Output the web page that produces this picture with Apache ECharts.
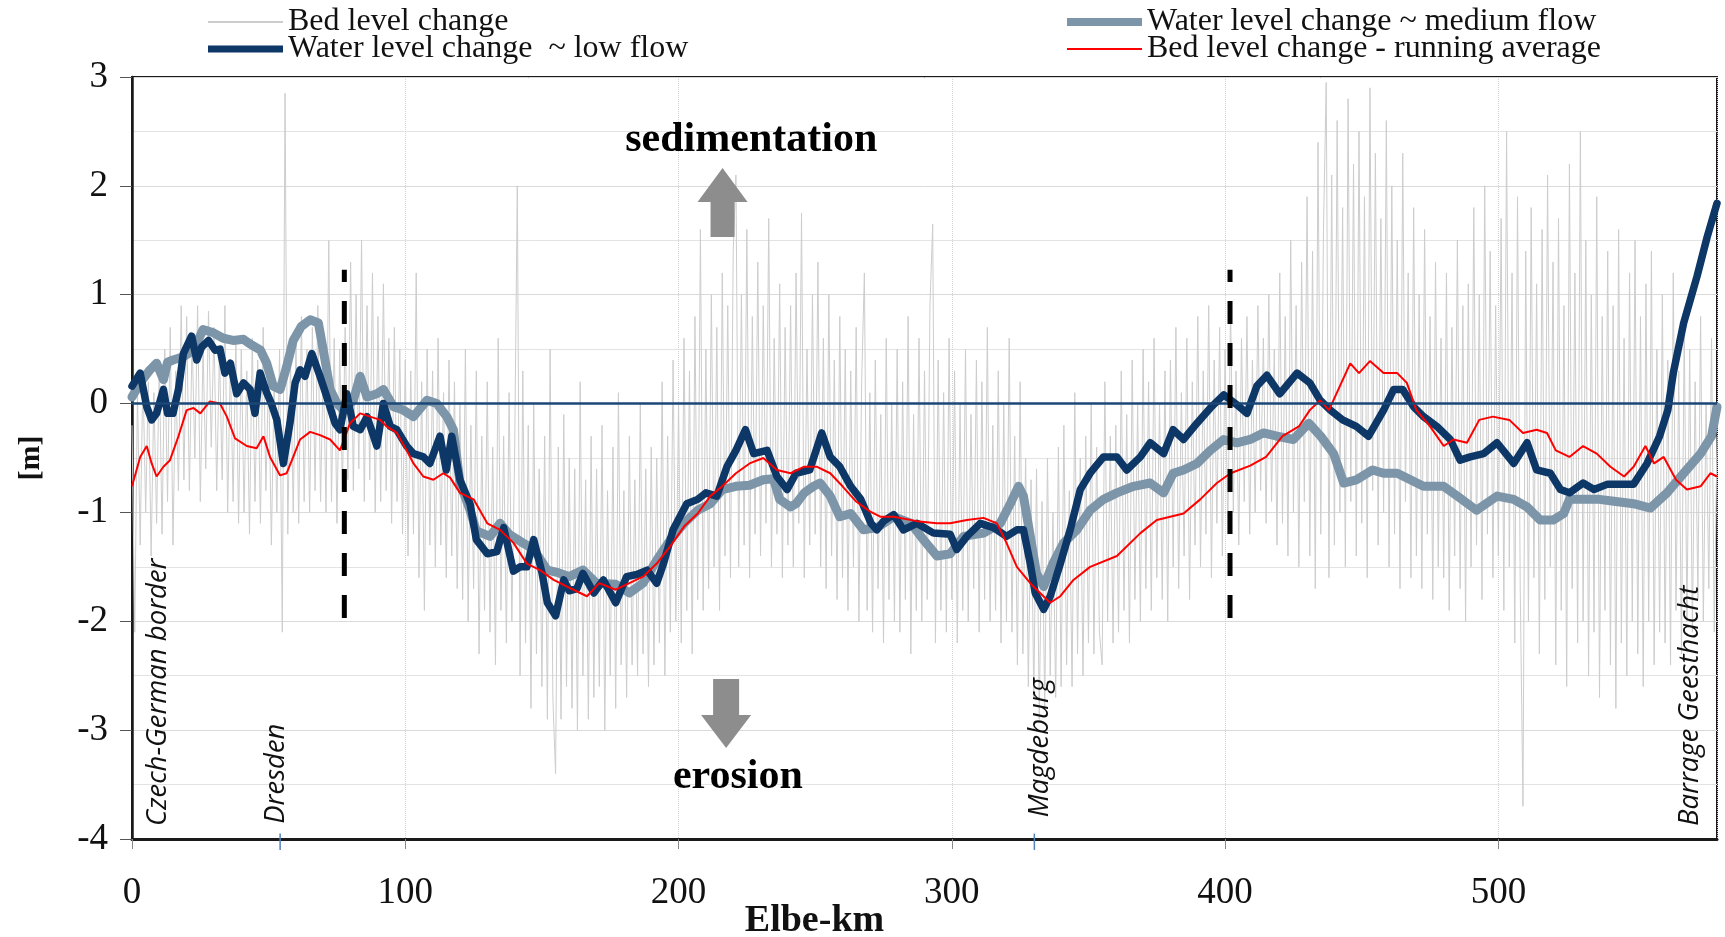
<!DOCTYPE html>
<html>
<head>
<meta charset="utf-8">
<title>Elbe - bed and water level change</title>
<script src="https://cdn.jsdelivr.net/npm/echarts@6/dist/echarts.min.js"></script>
<style>
  html, body { margin: 0; padding: 0; background: #fff; }
  #chart { width: 1725px; height: 937px; }
</style>
</head>
<body>
<div id="chart"></div>
<script>
(function (echarts) {
  "use strict";

  var SERIF = '"Liberation Serif", "Times New Roman", serif';
  var SANS = '"Open Sans", "Noto Sans", sans-serif';

  // series names, as in the legend
  var NAME_BED = 'Bed level change';
  var NAME_LOW = 'Water level change  ~ low flow';
  var NAME_MED = 'Water level change ~ medium flow';
  var NAME_AVG = 'Bed level change - running average';

  // bed level change, one value per Elbe-km (0 .. 580)
  var bedLevelStep = 1;
  var bedLevel = [
    -0.2, -2.1, 0.1, -1.3, 0.3, -1.0, 0.2, -1.4, 0.1, -1.1,
    0.4, -1.2, 0.5, -0.9, 0.7, -1.3, 0.3, -0.8, 0.9, -0.7,
    0.8, -0.8, 0.6, -0.5, 0.9, -0.9, 0.5, -0.6, 0.85, -0.4,
    0.7, -0.8, 0.5, -0.7, 0.9, -1.0, 0.4, -0.9, 0.6, -1.1,
    0.5, -1.0, 0.3, -1.2, 0.6, -0.9, 0.4, -1.1, 0.7, -0.8,
    0.3, -1.3, 0.2, -1.0, 0.5, -2.1, 2.85, -1.2, 0.4, -1.0,
    0.6, -1.1, 0.8, -0.9, 0.5, -1.0, 0.7, -0.8, 0.9, -0.9,
    0.4, -1.0, 1.5, -0.9, 0.6, -1.1, 0.5, -0.8, 0.7, -0.7,
    1.3, -0.8, 1.0, -0.6, 1.5, -0.9, 0.9, -0.7, 1.2, -1.0,
    0.8, -0.9, 1.1, -0.8, 0.6, -1.1, 0.7, -0.9, 0.5, -1.2,
    0.4, -1.4, 0.3, -1.2, 1.2, -1.6, 0.2, -1.9, 0.5, -1.3,
    0.3, -1.5, 0.6, -1.3, 0.1, -1.6, 0.4, -1.4, 0.2, -1.7,
    0.0, -1.8, 0.5, -2.0, -0.2, -1.7, 0.3, -2.3, -0.3, -1.9,
    0.2, -2.1, -0.4, -2.4, 0.6, -1.9, -0.3, -2.2, 0.1, -2.0,
    -0.5, 2.0, -2.5, 0.3, -2.2, -0.2, -2.8, 0.0, -2.3, -0.6,
    -2.6, -0.3, -2.9, 0.5, -2.7, -3.4, -0.4, -2.9, -0.1, -2.6,
    -0.5, -2.8, -0.6, -3.0, 0.2, -2.5, -0.7, -2.9, -0.3, -2.7,
    -0.6, -2.6, -0.2, -3.0, -0.8, -2.5, -0.4, -2.8, 0.1, -2.4,
    -0.8, -2.7, -0.3, -2.4, -0.7, -2.5, 0.0, -2.3, -0.6, -2.6,
    -0.4, -2.4, -0.5, -2.2, 0.2, -2.5, -0.3, -2.1, 0.4, -2.0,
    0.0, -2.2, 0.6, -1.9, 0.3, -2.3, 0.8, -1.8, 1.6, -1.9,
    0.5, -1.7, 1.0, -1.5, 0.7, -1.9, 1.2, -1.4, 0.9, -1.6,
    1.4, 2.1, -1.5, 1.0, -1.3, 1.6, -1.6, 0.8, -1.2, 1.3,
    -1.4, 0.9, -1.1, 1.7, -1.5, 0.6, -1.2, 1.1, -1.6, 0.7,
    -1.3, 0.9, -1.5, 1.2, -1.1, 1.75, -1.6, 0.5, -1.3, 1.0,
    -1.2, 1.3, -1.5, 0.6, -1.7, 1.0, -1.4, 0.4, -1.8, 0.8,
    -1.6, 0.5, -1.9, 0.3, -1.5, 0.7, -2.0, 0.2, 1.2, -1.9,
    0.1, -2.1, 0.4, -1.7, -0.1, -2.2, 0.6, -1.8, 0.0, -2.0,
    0.5, -2.1, 0.2, -1.8, 0.8, -2.3, -0.1, -1.9, 0.6, -2.0,
    0.3, -1.8, 0.9, 1.65, -2.2, 0.4, -1.9, 0.1, -2.1, 0.6,
    -1.8, 0.3, -2.2, 0.0, -1.9, 0.5, -2.0, -0.1, -1.7, 0.4,
    -2.1, 0.2, -1.8, 0.7, -2.0, -0.2, -1.9, 0.3, -2.2, 0.0,
    -2.0, 0.6, -2.1, -0.3, -2.4, 0.2, -2.3, -0.5, -2.6, -0.7,
    -2.7, -0.6, -2.9, -0.9, -2.8, -0.5, -2.5, -1.0, -2.7, -0.4,
    -2.6, -0.2, -2.4, -0.8, -2.6, 0.1, -2.3, -0.5, -2.5, -0.3,
    -2.2, 0.0, -2.3, -0.4, -2.1, -2.4, 0.2, -2.0, -0.3, -2.2,
    -0.2, -2.1, 0.3, -1.9, -0.1, -2.2, 0.4, -1.8, 0.0, -2.0,
    0.5, -1.7, 0.2, -1.9, 0.6, -1.6, 0.0, -1.8, 0.3, -2.0,
    0.4, -1.5, 0.7, -1.7, 0.1, -1.4, 0.6, -1.8, 0.2, -1.3,
    0.8, -1.5, 0.3, -1.2, 0.9, -1.6, 0.4, -1.1, 0.7, -1.4,
    0.5, -1.2, 0.9, -1.0, 0.3, -1.3, 0.6, -0.9, 0.8, -1.2,
    0.4, -1.0, 0.9, -0.8, 0.6, -1.1, 1.0, -0.9, 0.5, -1.3,
    1.2, -1.1, 0.8, -1.4, 1.5, -1.0, 0.9, -1.5, 1.3, -0.9,
    1.9, -1.4, 1.4, -1.7, 2.4, -1.2, 1.6, 2.95, -1.6, 2.1,
    -1.3, 2.6, -1.0, 1.8, -1.5, 2.8, -0.9, 2.2, -1.4, 2.5,
    -1.1, 1.9, -1.6, 2.9, -0.8, 2.3, -1.3, 1.7, -1.0, 2.6,
    -1.5, 2.0, -1.2, 1.5, -1.7, 2.3, -0.9, 1.2, -1.6, 1.8,
    -1.4, 1.0, -1.7, 1.6, -1.2, 0.8, -1.8, 1.3, -1.5, 0.6,
    -1.6, 1.2, -1.9, 0.7, -1.4, 1.5, -1.7, 0.9, -2.0, 1.1,
    -1.5, 1.8, -1.3, 1.0, -1.8, 2.0, -1.2, 1.4, -1.6, 0.9,
    -1.4, 1.7, -1.9, 2.5, -1.5, 1.2, -2.2, 1.9, -1.7, -3.7,
    1.4, -2.0, 1.8, -1.6, 1.1, -2.3, 1.6, -1.8, 2.1, -1.5,
    1.3, -2.4, 1.7, -1.9, 0.9, -2.6, 2.2, -1.7, 1.2, -2.2,
    2.5, -2.0, 1.5, -2.5, 1.0, -2.1, 1.9, -2.7, 0.8, -1.9,
    1.4, -2.4, 0.9, -2.8, 1.6, -2.2, 0.6, -2.5, 1.2, -2.0,
    1.5, -2.3, 0.8, -2.6, 1.1, -2.0, 1.4, -2.4, 0.5, -2.1,
    1.0, -2.2, 0.4, -2.4, 1.2, -1.9, 0.3, -2.3, 0.7, -2.0,
    0.5, -2.1, 0.2, -1.8, 0.8, -2.0, 0.0, -1.7, 0.6, -2.1, -0.3
  ];

  // [Elbe-km, m]
  var lowFlow = [
    [0, 0.16], [3, 0.28], [5.4, -0.03], [7.2, -0.15], [9, -0.09], [11.5, 0.13], [13, -0.09], [15, -0.09],
    [17, 0.13], [18.8, 0.46], [21.8, 0.62], [23.7, 0.40], [25.5, 0.52], [28, 0.58], [30.4, 0.49], [32.2, 0.50],
    [34, 0.28], [36, 0.37], [38.3, 0.09], [40.8, 0.19], [43.2, 0.13], [45, -0.09], [46.9, 0.28], [49.3, 0.10],
    [51, 0.0], [53, -0.15], [55.4, -0.55], [57.8, -0.18], [59.7, 0.19], [61.5, 0.31], [63.3, 0.25], [65.8, 0.46],
    [68.8, 0.25], [71.3, 0.06], [74.3, -0.18], [76.1, -0.24], [78.6, 0.09], [81, -0.21], [83.5, -0.24], [86, -0.12],
    [89.6, -0.39], [92, 0.0], [94.5, -0.21], [96.9, -0.24], [100.5, -0.39], [103, -0.46], [106.6, -0.49], [109, -0.55],
    [112.7, -0.30], [115, -0.61], [117, -0.30], [120, -0.70], [123.7, -0.92], [126, -1.25], [130, -1.38], [133.5, -1.36],
    [136, -1.14], [139.6, -1.54], [142, -1.50], [144.5, -1.50], [147, -1.25], [150, -1.55], [152, -1.83], [155, -1.95],
    [158, -1.62], [160, -1.72], [162.8, -1.70], [165, -1.56], [169, -1.74], [172.5, -1.62], [177, -1.83], [181, -1.59],
    [184.8, -1.57], [188.5, -1.53], [192, -1.65], [194.5, -1.47], [198, -1.16], [203, -0.92], [207, -0.88], [210, -0.82],
    [214, -0.85], [217.7, -0.58], [221, -0.43], [224.5, -0.24], [227.5, -0.46], [232.4, -0.43], [236, -0.67], [239.7, -0.79],
    [243, -0.64], [248, -0.61], [252.4, -0.27], [255.5, -0.49], [259, -0.58], [263, -0.76], [266.7, -0.88], [270.4, -1.10],
    [272.6, -1.16], [275, -1.08], [278.7, -1.02], [282.3, -1.16], [287.2, -1.10], [293.3, -1.19], [299.4, -1.20], [301.8, -1.34],
    [305.5, -1.22], [310.4, -1.10], [315.3, -1.14], [320, -1.22], [323.8, -1.16], [326.2, -1.16], [328.7, -1.47], [330.5, -1.74],
    [333.6, -1.89], [336, -1.77], [339.7, -1.47], [343.3, -1.16], [347, -0.79], [350.6, -0.64], [355.5, -0.49], [360.4, -0.49],
    [364, -0.61], [369, -0.49], [372.6, -0.36], [377.5, -0.46], [381, -0.24], [384.8, -0.33], [389.7, -0.18], [394.6, -0.04],
    [399.5, 0.08], [404.3, -0.01], [408, -0.09], [411.6, 0.16], [415.3, 0.26], [420, 0.09], [426.3, 0.28], [431, 0.19],
    [434.8, 0.03], [438.5, -0.06], [443, -0.15], [448, -0.21], [452.5, -0.30], [458, -0.06], [461.7, 0.13], [465, 0.13],
    [469, -0.03], [472.6, -0.12], [477.5, -0.21], [482.4, -0.33], [486, -0.52], [489.7, -0.49], [494.6, -0.46], [499.5, -0.36],
    [505.6, -0.55], [510.5, -0.36], [514, -0.61], [519, -0.64], [522.7, -0.79], [526, -0.82], [531, -0.73], [535, -0.79],
    [540, -0.74], [544.6, -0.74], [549.5, -0.74], [554.4, -0.55], [559, -0.30], [562, -0.06], [564, 0.28], [567.8, 0.74],
    [572.7, 1.17], [576.4, 1.53], [580, 1.84]
  ];

  var mediumFlow = [
    [0, 0.06], [3, 0.19], [6.6, 0.31], [9, 0.37], [11.5, 0.22], [13, 0.38], [15, 0.40], [18.8, 0.43],
    [22.5, 0.49], [26, 0.68], [29.8, 0.65], [33.4, 0.60], [37, 0.58], [40.8, 0.59], [43, 0.55], [47, 0.49],
    [49.3, 0.37], [51.7, 0.16], [54.2, 0.13], [56.6, 0.34], [59, 0.58], [62, 0.71], [65.2, 0.77], [68.2, 0.74],
    [70, 0.49], [72.5, 0.13], [75, 0.0], [77.4, -0.06], [81, 0.03], [83.5, 0.25], [86, 0.06], [89.6, 0.09],
    [92, 0.13], [95.7, -0.03], [99.3, -0.06], [103, -0.12], [107.9, 0.03], [111.5, 0.0], [115.2, -0.12], [117.6, -0.24],
    [120, -0.73], [123.7, -0.98], [126, -1.17], [131, -1.22], [134.7, -1.10], [138, -1.20], [143, -1.28], [147, -1.34],
    [152, -1.53], [155.5, -1.55], [160, -1.59], [165, -1.53], [170, -1.65], [177, -1.66], [182, -1.74], [187, -1.65],
    [192, -1.44], [197, -1.25], [202, -1.10], [207, -0.98], [211.6, -0.92], [216, -0.79], [221, -0.76], [226, -0.75],
    [231, -0.70], [234.7, -0.69], [237, -0.88], [241, -0.95], [243, -0.92], [246, -0.82], [249.4, -0.76], [251.8, -0.73],
    [255.5, -0.85], [259, -1.04], [263, -1.01], [267.7, -1.16], [272.6, -1.14], [278.7, -1.04], [285, -1.10], [289.6, -1.25],
    [294.5, -1.40], [299.4, -1.38], [304.3, -1.22], [311.6, -1.19], [317.7, -1.10], [321.4, -0.92], [324.4, -0.76], [326.2, -0.85],
    [328.7, -1.22], [331, -1.56], [333.6, -1.68], [337, -1.47], [340.9, -1.28], [345.8, -1.16], [350.6, -0.98], [355.5, -0.88],
    [360.4, -0.82], [366.5, -0.76], [372.6, -0.73], [377.5, -0.82], [381, -0.64], [384.8, -0.61], [389.7, -0.55], [394.6, -0.43],
    [399.5, -0.33], [404.3, -0.36], [409.2, -0.33], [414, -0.27], [419, -0.30], [425, -0.33], [430.6, -0.18], [435, -0.30],
    [439.7, -0.46], [443.4, -0.73], [448, -0.70], [454, -0.61], [458, -0.64], [463, -0.64], [467.8, -0.70], [472.6, -0.76],
    [480, -0.76], [485, -0.85], [492, -0.98], [499.5, -0.85], [505.6, -0.88], [510.5, -0.95], [515.3, -1.07], [520, -1.07],
    [523.9, -1.01], [526, -0.88], [531, -0.88], [537, -0.88], [543, -0.90], [549.5, -0.92], [555.6, -0.96], [561.7, -0.82],
    [567.8, -0.64], [574, -0.46], [578, -0.30], [580, -0.03]
  ];

  var runningAvg = [
    [0, -0.76], [3, -0.49], [5.4, -0.39], [7.2, -0.55], [9, -0.67], [11.5, -0.58], [13.9, -0.52], [17, -0.30],
    [20, -0.06], [22.5, -0.04], [25, -0.09], [28.5, 0.02], [32.2, 0.0], [34.7, -0.12], [37.7, -0.32], [42, -0.39],
    [45.6, -0.41], [48.1, -0.30], [50.5, -0.49], [54.2, -0.66], [56.6, -0.64], [59, -0.49], [61.5, -0.33], [65.2, -0.26],
    [68.8, -0.29], [72.5, -0.33], [76.1, -0.43], [79.8, -0.18], [83.5, -0.09], [87.1, -0.12], [90.8, -0.15], [93.2, -0.21],
    [96.9, -0.27], [100.5, -0.43], [103, -0.55], [106.6, -0.67], [110.3, -0.70], [113.9, -0.64], [116.4, -0.68], [120, -0.82],
    [125, -0.88], [130, -1.10], [134.7, -1.16], [139.6, -1.28], [144.5, -1.47], [149.3, -1.53], [154.3, -1.62], [159, -1.68],
    [164, -1.74], [166.5, -1.77], [171, -1.65], [177, -1.71], [182, -1.65], [187, -1.59], [192, -1.47], [197, -1.31],
    [202, -1.13], [207, -1.01], [211.6, -0.85], [216, -0.76], [221, -0.64], [226, -0.55], [231, -0.50], [236, -0.61],
    [241, -0.64], [246, -0.58], [250.5, -0.58], [255.5, -0.64], [260, -0.76], [265, -0.90], [270, -0.99], [274, -1.04],
    [278.7, -1.04], [287.2, -1.08], [294.5, -1.10], [299.4, -1.10], [305.5, -1.07], [311.6, -1.05], [316.5, -1.10], [320, -1.28],
    [323.8, -1.50], [328.7, -1.65], [332.3, -1.74], [336, -1.83], [339.7, -1.77], [344.5, -1.62], [350.6, -1.50], [360.4, -1.40],
    [369, -1.19], [375, -1.07], [384.8, -1.01], [390.9, -0.88], [397, -0.73], [402, -0.64], [409.2, -0.57], [415, -0.49],
    [421, -0.30], [427, -0.21], [431, -0.06], [434.8, 0.03], [438, -0.06], [442, 0.16], [445.8, 0.37], [449, 0.28],
    [453, 0.39], [458, 0.28], [463, 0.28], [466.5, 0.19], [470, -0.06], [475, -0.21], [480, -0.39], [483.6, -0.33],
    [488.5, -0.36], [493, -0.15], [498, -0.12], [504, -0.15], [509, -0.27], [514, -0.24], [517.8, -0.27], [521, -0.43],
    [526, -0.49], [531, -0.39], [536, -0.46], [541, -0.58], [546, -0.67], [549.5, -0.58], [553.8, -0.39], [557, -0.55],
    [560.5, -0.49], [565, -0.70], [569, -0.79], [574, -0.76], [577.6, -0.64], [580, -0.67]
  ];

  // reach dividers (km) and their vertical extent (m)
  var dividerKm = [77.7, 401.8];
  var dividerSpan = [-1.97, 1.23];

  // place names along the river: km, and the level where the text starts
  var placeNames = ['Czech-German border', 'Dresden', 'Magdeburg', 'Barrage Geesthacht'];
  var placeKm = [9.5, 52.9, 332.3, 570.3];
  var placeBase = [-3.88, -3.86, -3.80, -3.88];
  var townTickKm = [54.2, 330.2];

  var xTicks = { min: 0, max: 580, interval: 100 };
  var yTicks = { min: -4, max: 3, interval: 1 };

  function withKm(values, step) {
    return values.map(function (v, i) { return [i * step, v]; });
  }

  function legendBox(left, top, name, icon) {
    return {
      left: left, top: top, orient: 'horizontal',
      itemWidth: 75, itemHeight: 9, itemGap: 0, selectedMode: false,
      textStyle: { fontFamily: SERIF, fontSize: 32, color: '#111' },
      data: [{ name: name, icon: icon }]
    };
  }

  var dividerSeries = dividerKm.map(function (km) {
    return {
      type: 'line',
      data: [[km, dividerSpan[0]], [km, dividerSpan[1]]],
      symbol: 'none',
      silent: true,
      z: 6,
      lineStyle: { color: '#000', width: 5, type: [23, 19], cap: 'butt' }
    };
  });

  var option = {
    backgroundColor: '#fff',
    animation: false,
    textStyle: { fontFamily: SERIF },
    grid: {
      left: 132, right: 8, top: 77, bottom: 98,
      containLabel: false, outerBoundsMode: 'none',
      show: true, borderColor: '#1a1a1a', borderWidth: 2
    },
    legend: [
      legendBox(203, 1, NAME_BED, 'path://M0 0H75V1.5H0Z'),
      legendBox(203, 28, NAME_LOW, 'path://M0 0H75V7H0Z'),
      legendBox(1062, 1, NAME_MED, 'path://M0 0H75V8H0Z'),
      legendBox(1062, 28, NAME_AVG, 'path://M0 0H75V2H0Z')
    ],
    xAxis: {
      type: 'value', min: xTicks.min, max: xTicks.max, interval: xTicks.interval,
      name: 'Elbe-km', nameLocation: 'middle', nameGap: 63, nameMoveOverlap: false,
      nameTextStyle: { fontFamily: SERIF, fontWeight: 'bold', fontSize: 38, color: '#111', padding: [0, 220, 0, 0] },
      axisLine: { onZero: false, lineStyle: { color: '#1a1a1a', width: 3 } },
      axisTick: { length: 10, lineStyle: { color: '#888' } },
      axisLabel: { margin: 36, fontFamily: SERIF, fontSize: 37, color: '#111', showMaxLabel: false },
      splitLine: { show: true, lineStyle: { color: '#d2d2d2', type: 'dotted' } }
    },
    yAxis: {
      type: 'value', min: yTicks.min, max: yTicks.max, interval: yTicks.interval,
      name: '[m]', nameLocation: 'middle', nameGap: 86, nameRotate: 90, nameMoveOverlap: false,
      nameTextStyle: { fontFamily: SERIF, fontWeight: 'bold', fontSize: 30, color: '#111' },
      axisLine: { show: true, onZero: false, lineStyle: { color: '#1a1a1a', width: 2.5 } },
      axisTick: { show: true, length: 12, lineStyle: { color: '#555' } },
      axisLabel: { margin: 24, fontFamily: SERIF, fontSize: 37, color: '#111' },
      splitLine: { lineStyle: { color: '#dadada' } },
      minorTick: { show: false, splitNumber: 2 },
      minorSplitLine: { show: true, lineStyle: { color: '#e3e3e3' } }
    },
    series: [
      {
        name: NAME_BED, type: 'line', data: withKm(bedLevel, bedLevelStep),
        symbol: 'none', silent: true, z: 1,
        itemStyle: { color: '#bdbdbd' },
        lineStyle: { color: '#cdcdcd', width: 1 }
      },
      {
        name: NAME_MED, type: 'line', data: mediumFlow,
        symbol: 'none', silent: true, z: 2,
        itemStyle: { color: '#7d95a8' },
        lineStyle: { color: '#7d95a8', width: 9, join: 'round', cap: 'round' }
      },
      {
        name: NAME_LOW, type: 'line', data: lowFlow,
        symbol: 'none', silent: true, z: 3,
        itemStyle: { color: '#0c3766' },
        lineStyle: { color: '#0c3766', width: 7.5, join: 'round', cap: 'round' },
        markLine: {
          silent: true, symbol: 'none', label: { show: false },
          lineStyle: { color: '#1b4777', width: 2.5, type: 'solid' },
          data: [{ yAxis: 0 }]
        }
      },
      {
        name: NAME_AVG, type: 'line', data: runningAvg,
        symbol: 'none', silent: true, z: 4,
        itemStyle: { color: '#ff0000' },
        lineStyle: { color: '#ff0000', width: 2 }
      }
    ].concat(dividerSeries)
  };

  function buildOverlay(chart) {
    var toPx = function (km, v) { return chart.convertToPixel({ gridIndex: 0 }, [km, v]); };
    var elements = [];

    placeNames.forEach(function (name, i) {
      var p = toPx(placeKm[i], placeBase[i]);
      elements.push({
        type: 'text', x: p[0], y: p[1], rotation: Math.PI / 2, z: 20, silent: true,
        style: {
          text: name, fill: '#111', fontFamily: SANS, fontStyle: 'italic', fontSize: 27.5,
          align: 'left', verticalAlign: 'middle'
        }
      });
    });

    townTickKm.forEach(function (km) {
      var a = toPx(km, -3.95), b = toPx(km, -4.1);
      elements.push({
        type: 'line', z: 20, silent: true,
        shape: { x1: a[0], y1: a[1], x2: b[0], y2: b[1] },
        style: { stroke: '#4f81bd', lineWidth: 1.5 }
      });
    });

    // arrows: sedimentation (up) and erosion (down)
    var up = toPx(216.1, 2.163);
    elements.push({
      type: 'polygon', z: 20, silent: true,
      shape: { points: [
        [up[0], up[1]], [up[0] + 25, up[1] + 34], [up[0] + 12, up[1] + 34], [up[0] + 12, up[1] + 69],
        [up[0] - 12, up[1] + 69], [up[0] - 12, up[1] + 34], [up[0] - 25, up[1] + 34]
      ] },
      style: { fill: '#8d8d8d' }
    });
    var dn = toPx(217.4, -2.53);
    elements.push({
      type: 'polygon', z: 20, silent: true,
      shape: { points: [
        [dn[0] - 13, dn[1]], [dn[0] + 13, dn[1]], [dn[0] + 13, dn[1] + 36], [dn[0] + 25, dn[1] + 36],
        [dn[0], dn[1] + 69], [dn[0] - 25, dn[1] + 36], [dn[0] - 13, dn[1] + 36]
      ] },
      style: { fill: '#8d8d8d' }
    });

    var sed = toPx(226.6, 2.42);
    elements.push({
      type: 'text', x: sed[0], y: sed[1], z: 20, silent: true,
      style: { text: 'sedimentation', fill: '#000', fontFamily: SERIF, fontWeight: 'bold', fontSize: 42,
        align: 'center', verticalAlign: 'middle' }
    });
    var ero = toPx(221.7, -3.435);
    elements.push({
      type: 'text', x: ero[0], y: ero[1], z: 20, silent: true,
      style: { text: 'erosion', fill: '#000', fontFamily: SERIF, fontWeight: 'bold', fontSize: 42,
        align: 'center', verticalAlign: 'middle' }
    });

    return elements;
  }

  var chart = echarts.init(document.getElementById('chart'));
  chart.setOption(option);
  chart.setOption({ graphic: buildOverlay(chart) });
})(echarts);
</script>
</body>
</html>
